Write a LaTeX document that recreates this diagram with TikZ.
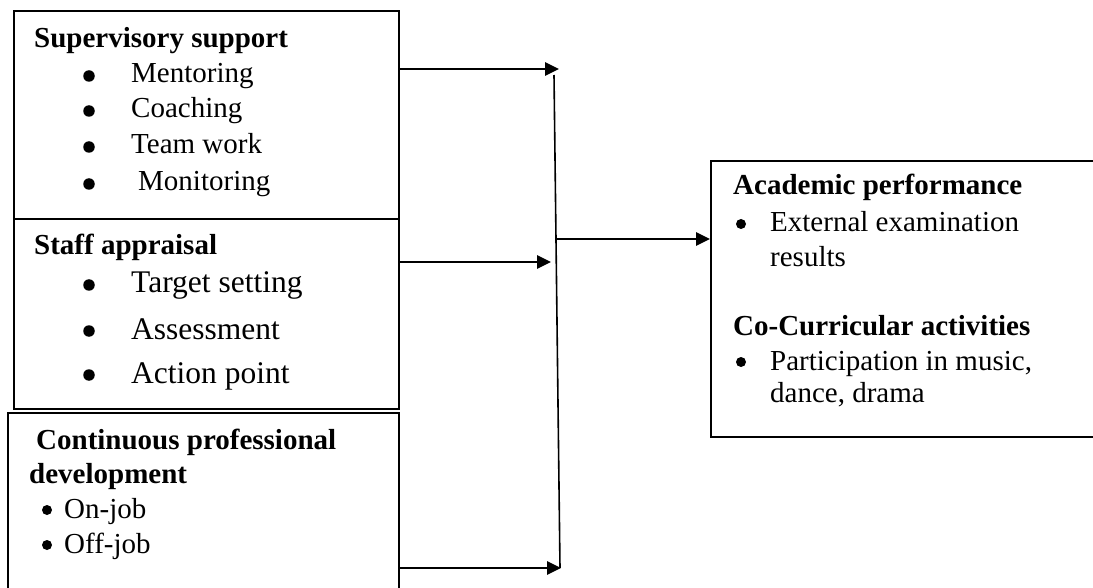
\documentclass[tikz,border=0pt]{standalone}
\usepackage{fontspec}
\setmainfont{Liberation Serif}
\usetikzlibrary{arrows.meta}
\begin{document}
\begin{tikzpicture}[x=1pt,y=-1pt,
  box/.style={draw,line width=1.8pt,rectangle,inner sep=0pt,anchor=north west},
  txt/.style={anchor=base west,inner sep=0pt,font=\fontsize{29}{36}\selectfont},
  hd/.style={txt,font=\fontsize{29}{36}\selectfont\bfseries},
  big/.style={txt,font=\fontsize{31.5}{38}\selectfont},
  bul/.style={circle,fill=black,inner sep=0pt,minimum size=11.5pt},
  sbul/.style={circle,fill=black,inner sep=0pt,minimum size=10pt},
  arr/.style={line width=2.6pt,-{Triangle[length=14pt,width=13pt]}},
  bus/.style={line width=1.6pt}]
\useasboundingbox (0,0) rectangle (1093,588);
\clip (0,0) rectangle (1093,588);
\fill[white] (0,0) rectangle (1093,588);
% boxes
\node[box,minimum width=385pt,minimum height=208pt] (sup) at (13,10) {};
\node[box,minimum width=385pt,minimum height=190pt] (staff) at (13,218) {};
\node[box,minimum width=391pt,minimum height=200pt] (cpd) at (7,412) {};
\node[box,minimum width=400pt,minimum height=276pt] (out) at (710,160) {};
% supervisory support
\node[hd] (t1) at (34,48) {Supervisory support};
\node[bul] (b11) at (89,76) {};   \node[txt] (i11) at (131,83) {Mentoring};
\node[bul] (b12) at (89,111) {};  \node[txt] (i12) at (131,118) {Coaching};
\node[bul] (b13) at (89,147) {};  \node[txt] (i13) at (131,154) {Team work};
\node[bul] (b14) at (89,184) {};  \node[txt] (i14) at (138,191) {Monitoring};
% staff appraisal
\node[hd] (t2) at (34,255) {Staff appraisal};
\node[bul] (b21) at (89,285) {};  \node[big] (i21) at (131,293) {Target setting};
\node[bul] (b22) at (89,331) {};  \node[big] (i22) at (131,339) {Assessment};
\node[bul] (b23) at (89,375) {};  \node[big] (i23) at (131,383) {Action point};
% CPD
\node[hd] (t3) at (36,449) {Continuous professional};
\node[hd] (t3b) at (29,483) {development};
\node[sbul] (b31) at (47,510) {};  \node[txt] (i31) at (64,518) {On-job};
\node[sbul] (b32) at (47,545) {};  \node[txt] (i32) at (64,553) {Off-job};
% outcomes
\node[hd] (t4) at (733,195) {Academic performance};
\node[sbul] (b41) at (741,224) {}; \node[txt] (i41) at (770,232) {External examination};
\node[txt] (i41b) at (770,267) {results};
\node[hd] (t5) at (733,335) {Co-Curricular activities};
\node[sbul] (b51) at (741,362) {}; \node[txt] (i51) at (770,370) {Participation in music,};
\node[txt] (i51b) at (770,402) {dance, drama};
% connectors
\coordinate (e1) at (559,69);
\coordinate (e2) at (551,262);
\coordinate (e3) at (561,568);
\coordinate (bt) at (554,75);
\coordinate (bb) at (560,568);
\coordinate (bm) at (557,239);
\draw[arr] (sup.east |- e1) -- (e1);
\draw[arr] (staff.east |- e2) -- (e2);
\draw[arr] (cpd.east |- e3) -- (e3);
\draw[bus] (bt) -- (bb);
\draw[arr] (bm) -- (out.west |- bm);
\end{tikzpicture}
\end{document}
